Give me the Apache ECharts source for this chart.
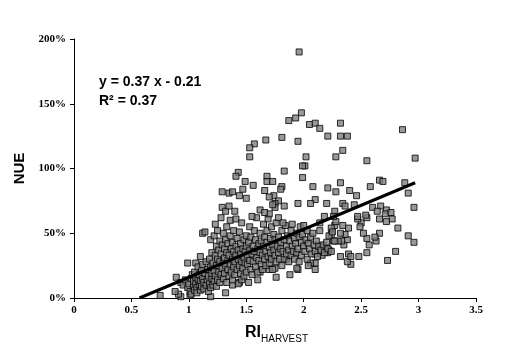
<!DOCTYPE html>
<html>
<head>
<meta charset="utf-8">
<script src="https://cdn.jsdelivr.net/npm/echarts@6/dist/echarts.min.js"></script>
<style>
  html, body { margin: 0; padding: 0; background: #fff; }
  #chart { width: 520px; height: 355px; }
</style>
</head>
<body>
<div id="chart"></div>
<script>
// RI harvest vs NUE (%)
const points = [
  // sparse / high points
  [1.96, 190], [1.87, 137], [1.93, 139], [1.98, 143], [2.05, 134], [2.10, 135], [2.14, 131],
  [2.32, 135], [2.21, 125], [2.32, 125], [2.38, 125], [2.34, 114], [2.28, 109], [1.95, 121],
  [1.81, 124], [1.67, 122], [1.57, 119], [1.53, 116], [1.53, 109], [2.86, 130], [2.97, 108],
  [2.55, 106], [2.01, 102], [1.99, 102], [2.02, 109], [1.83, 98], [1.43, 97], [1.41, 94],
  [1.99, 93], [1.49, 90], [1.68, 94], [1.68, 90], [1.73, 90], [1.56, 87], [1.81, 86],
  [1.80, 84], [1.66, 83], [2.08, 86], [2.21, 85], [2.32, 89], [2.66, 91], [2.69, 90],
  [2.58, 86], [2.88, 89], [2.91, 81], [2.46, 79], [2.40, 83], [2.28, 82], [1.29, 82],
  [1.35, 81], [1.38, 82], [1.44, 79], [1.50, 77], [1.47, 84], [1.74, 79], [1.70, 78],
  [2.10, 76], [2.06, 73], [1.95, 73], [1.78, 75], [1.75, 73], [1.83, 71], [2.20, 73],
  [2.34, 73], [2.36, 71], [2.44, 72], [2.60, 70], [2.67, 71], [2.96, 70], [2.72, 68],
  [2.64, 67], [2.71, 65], [2.76, 66], [2.77, 61], [2.72, 59], [2.66, 61], [2.82, 54],
  [2.91, 48], [2.96, 43], [2.80, 36], [2.73, 29], [2.66, 50], [2.63, 44], [2.62, 47],
  [2.57, 41], [2.55, 35], [2.55, 46], [2.52, 50], [2.55, 62], [2.50, 58], [2.49, 55],
  [2.47, 61], [2.47, 63], [2.54, 64], [2.48, 32], [2.41, 26], [2.38, 28], [2.39, 34],
  [2.41, 32], [2.32, 32], [2.35, 41], [2.38, 45], [2.36, 49], [2.39, 54], [2.34, 56],
  [2.32, 50], [2.33, 44], [2.30, 44], [2.26, 44], [2.24, 49], [2.27, 56], [2.24, 54],
  [2.28, 59], [2.27, 67], [2.26, 63], [2.18, 63], [2.14, 58], [2.15, 40], [2.20, 39],
  [2.22, 37], [2.21, 35], [2.16, 33], [2.13, 36], [2.10, 34], [2.10, 27], [2.10, 22],
  [2.06, 27], [2.04, 25], [1.95, 22], [1.94, 23], [1.88, 18], [1.76, 16], [1.85, 30],
  [1.75, 23], [1.70, 22], [1.62, 20], [1.60, 14], [1.38, 10], [1.44, 12], [1.32, 4],
  [1.19, 1], [1.01, 2], [0.93, 1], [0.91, 3], [0.88, 5], [0.75, 2], [0.89, 16],
  [0.99, 27], [1.06, 27],
  // dense cluster
  [0.93, 12], [0.95, 10], [0.97, 14], [0.99, 8], [1.00, 11], [1.01, 5], [1.02, 15], [1.02, 3],
  [1.03, 18], [1.04, 9], [1.04, 13], [1.05, 6], [1.05, 20], [1.06, 11], [1.06, 16], [1.07, 8],
  [1.07, 4], [1.08, 14], [1.08, 24], [1.09, 10], [1.09, 18], [1.10, 6], [1.10, 13], [1.10, 32],
  [1.11, 21], [1.11, 9], [1.12, 15], [1.12, 26], [1.12, 50], [1.13, 12], [1.13, 7], [1.14, 19],
  [1.14, 51], [1.15, 10], [1.15, 28], [1.16, 14], [1.16, 22], [1.17, 5], [1.17, 17], [1.18, 30],
  [1.18, 11], [1.19, 8], [1.19, 24], [1.19, 45], [1.20, 15], [1.20, 19], [1.20, 35], [1.21, 10],
  [1.21, 27], [1.22, 13], [1.22, 48], [1.22, 21], [1.23, 17], [1.23, 33], [1.23, 57], [1.24, 9],
  [1.24, 25], [1.24, 40], [1.25, 14], [1.25, 30], [1.25, 52], [1.26, 20], [1.26, 37], [1.27, 12],
  [1.27, 28], [1.27, 44], [1.28, 18], [1.28, 34], [1.28, 62], [1.29, 23], [1.29, 41], [1.29, 70],
  [1.30, 15], [1.30, 27], [1.30, 50], [1.31, 31], [1.31, 38], [1.31, 19], [1.32, 25], [1.32, 45],
  [1.32, 67], [1.33, 12], [1.33, 35], [1.33, 55], [1.34, 22], [1.34, 29], [1.34, 42], [1.35, 17],
  [1.35, 33], [1.35, 71], [1.36, 26], [1.36, 48], [1.36, 60], [1.37, 20], [1.37, 38], [1.38, 14],
  [1.38, 30], [1.38, 43], [1.39, 24], [1.39, 36], [1.39, 52], [1.40, 18], [1.40, 28], [1.40, 67],
  [1.41, 33], [1.41, 40], [1.41, 61], [1.42, 22], [1.42, 46], [1.43, 11], [1.43, 30], [1.43, 37],
  [1.44, 25], [1.44, 51], [1.45, 19], [1.45, 34], [1.45, 42], [1.46, 28], [1.46, 14], [1.46, 58],
  [1.47, 23], [1.47, 38], [1.48, 31], [1.48, 45], [1.48, 17], [1.49, 27], [1.49, 36], [1.50, 20],
  [1.50, 40], [1.50, 48], [1.51, 33], [1.51, 26], [1.52, 12], [1.52, 43], [1.53, 29], [1.53, 37],
  [1.53, 55], [1.54, 22], [1.54, 47], [1.55, 34], [1.55, 18], [1.56, 40], [1.56, 28], [1.57, 52],
  [1.57, 36], [1.58, 24], [1.58, 45], [1.59, 31], [1.59, 62], [1.60, 38], [1.60, 20], [1.61, 42],
  [1.61, 29], [1.62, 35], [1.62, 50], [1.63, 26], [1.63, 44], [1.64, 33], [1.64, 22], [1.65, 40],
  [1.65, 57], [1.66, 30], [1.66, 47], [1.67, 36], [1.67, 25], [1.68, 43], [1.68, 52], [1.69, 32],
  [1.69, 61], [1.70, 39], [1.70, 27], [1.71, 46], [1.71, 35], [1.72, 30], [1.72, 55], [1.73, 41],
  [1.73, 22], [1.74, 37], [1.74, 49], [1.75, 33], [1.75, 45], [1.76, 28], [1.76, 58], [1.77, 40],
  [1.78, 35], [1.78, 47], [1.79, 30], [1.80, 43], [1.80, 38], [1.81, 52], [1.81, 25], [1.82, 36],
  [1.83, 45], [1.83, 30], [1.84, 56], [1.85, 40], [1.85, 34], [1.86, 48], [1.87, 37], [1.87, 28],
  [1.88, 44], [1.89, 52], [1.89, 33], [1.90, 40], [1.90, 57], [1.91, 36], [1.92, 46], [1.92, 30],
  [1.93, 42], [1.94, 50], [1.94, 35], [1.95, 38], [1.96, 47], [1.96, 28], [1.97, 55], [1.98, 43],
  [1.98, 33], [1.99, 49], [2.00, 40], [2.00, 56], [2.01, 36], [2.02, 45], [2.03, 52], [2.03, 30],
  [2.04, 42], [2.05, 38], [2.06, 47], [2.07, 34], [2.08, 50], [2.09, 41], [2.10, 36], [2.11, 44],
  [2.12, 32], [2.13, 40], [2.14, 52], [2.15, 37], [2.17, 41], [2.18, 35], [2.20, 43], [2.21, 38],
  [2.22, 48], [2.24, 36], [2.25, 51], [2.27, 44],
  [1.55, 63], [1.62, 68], [1.70, 65], [1.75, 70], [1.78, 62], [1.66, 66], [1.82, 58], [1.73, 72]
]

// fitted line y = 0.37x - 0.21, ends as drawn
const trendX = [0.57, 2.97]
const trendY = [0, 89]

const yTicks = [0, 50, 100, 150, 200]

const chart = echarts.init(document.getElementById('chart'))

chart.setOption({
  animation: false,
  grid: { left: 74, right: 44, top: 39, bottom: 57 },
  xAxis: {
    type: 'value',
    min: 0,
    max: 3.5,
    interval: 0.5,
    axisLine: { lineStyle: { color: '#000', width: 1 } },
    axisTick: { show: true, length: 4, lineStyle: { color: '#000' } },
    axisLabel: {
      color: '#000',
      fontFamily: 'Liberation Serif',
      fontWeight: 'bold',
      fontSize: 11,
      margin: 7
    },
    splitLine: { show: false }
  },
  yAxis: {
    type: 'value',
    min: yTicks[0],
    max: yTicks[yTicks.length - 1],
    interval: 50,
    axisLine: { show: true, lineStyle: { color: '#000', width: 1 } },
    axisTick: { show: true, length: 4, lineStyle: { color: '#000' } },
    axisLabel: {
      color: '#000',
      fontFamily: 'Liberation Serif',
      fontWeight: 'bold',
      fontSize: 11,
      margin: 8,
      formatter: '{value}%'
    },
    splitLine: { show: false },
    name: 'NUE',
    nameLocation: 'middle',
    nameGap: 43,
    nameTextStyle: {
      color: '#000',
      fontFamily: 'Liberation Sans',
      fontWeight: 'bold',
      fontSize: 15
    }
  },
  graphic: [
    {
      type: 'text',
      left: 245,
      top: 325,
      style: { text: 'RI', fill: '#000', font: 'bold 16px "Liberation Sans"' }
    },
    {
      type: 'text',
      left: 261,
      top: 334,
      style: { text: 'HARVEST', fill: '#000', font: '10px "Liberation Sans"' }
    },
    {
      type: 'text',
      left: 99,
      top: 75,
      style: { text: 'y = 0.37 x - 0.21', fill: '#000', font: 'bold 14px "Liberation Sans"' }
    },
    {
      type: 'text',
      left: 99,
      top: 94,
      style: { text: 'R² = 0.37', fill: '#000', font: 'bold 14px "Liberation Sans"' }
    }
  ],
  series: [
    {
      type: 'scatter',
      data: points,
      symbol: 'rect',
      symbolSize: 6,
      itemStyle: { color: '#808080', borderColor: '#000', borderWidth: 1 }
    },
    {
      type: 'line',
      data: trendX.map((x, i) => [x, trendY[i]]),
      symbol: 'none',
      lineStyle: { color: '#000', width: 3 },
      z: 3
    }
  ]
})
</script>
</body>
</html>
